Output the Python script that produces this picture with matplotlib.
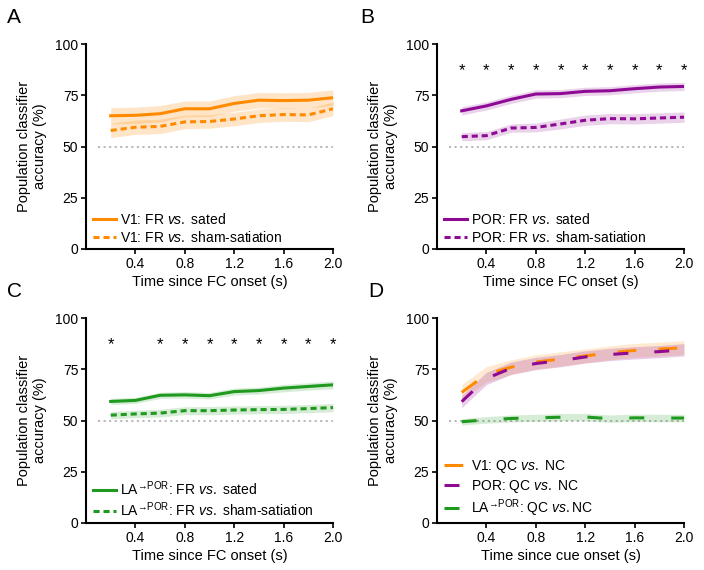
import numpy as np
import matplotlib.pyplot as plt

plt.rcParams['font.family'] = ['Liberation Sans', 'DejaVu Sans']
plt.rcParams['mathtext.fontset'] = 'custom'
plt.rcParams['mathtext.rm'] = 'Liberation Sans'
plt.rcParams['mathtext.it'] = 'Liberation Sans:italic'
plt.rcParams['lines.scale_dashes'] = False

# time bins (s)
time = [0.2, 0.4, 0.6, 0.8, 1.0, 1.2, 1.4, 1.6, 1.8, 2.0]

# panel A: V1
v1_sated = [65.0, 65.2, 66.0, 68.4, 68.4, 71.0, 72.6, 72.4, 72.6, 73.8]
v1_sated_err = [4.0, 4.0, 4.0, 3.8, 3.8, 3.8, 3.8, 3.8, 3.8, 3.8]
v1_sham = [57.8, 59.4, 59.8, 62.0, 62.2, 63.4, 65.0, 65.6, 65.4, 68.4]
v1_sham_err = [3.5, 3.5, 3.5, 3.3, 3.3, 3.3, 3.3, 3.3, 3.3, 3.3]

# panel B: POR
por_sated = [67.4, 69.8, 73.0, 75.6, 75.8, 76.9, 77.2, 78.2, 79.0, 79.3]
por_sated_err = [2.0, 2.0, 2.0, 2.0, 2.0, 2.0, 2.0, 2.0, 2.0, 2.0]
por_sham = [54.8, 55.3, 59.0, 59.3, 61.0, 62.8, 63.6, 63.5, 63.9, 64.3]
por_sham_err = [2.0, 2.0, 2.0, 2.2, 2.4, 2.5, 2.5, 2.5, 2.5, 2.5]
por_stars = [0.2, 0.4, 0.6, 0.8, 1.0, 1.2, 1.4, 1.6, 1.8, 2.0]

# panel C: LA->POR
la_sated = [59.3, 59.8, 62.3, 62.5, 62.1, 64.1, 64.6, 65.8, 66.6, 67.4]
la_sated_err = [1.5, 1.5, 1.5, 1.6, 1.6, 1.7, 1.7, 1.8, 1.8, 1.9]
la_sham = [52.6, 53.2, 53.6, 54.8, 54.8, 55.1, 55.3, 55.4, 55.8, 56.3]
la_sham_err = [1.8, 1.8, 1.9, 1.9, 2.0, 2.0, 2.0, 2.0, 2.0, 2.0]
la_stars = [0.2, 0.6, 0.8, 1.0, 1.2, 1.4, 1.6, 1.8, 2.0]

# panel D: quinine cue vs neutral cue
v1_qc = [63.7, 72.5, 76.0, 78.5, 80.0, 81.5, 83.0, 84.2, 84.8, 85.5]
v1_qc_err = [3.8, 3.8, 3.6, 3.5, 3.5, 3.4, 3.4, 3.4, 3.4, 3.4]
por_qc = [59.2, 70.5, 75.5, 77.8, 79.2, 81.0, 82.2, 83.0, 83.6, 84.5]
por_qc_err = [3.0, 3.0, 3.0, 3.0, 3.0, 3.0, 3.0, 3.0, 3.0, 3.0]
la_qc = [49.4, 50.3, 51.0, 51.3, 51.6, 51.7, 50.9, 51.3, 51.2, 51.2]
la_qc_err = [1.6, 1.6, 1.7, 1.7, 1.8, 1.8, 1.8, 1.8, 1.8, 1.8]

STAR_Y = 90
CHANCE = 50

ORANGE = '#FF8A00'
PURPLE = '#8E0A94'
GREEN = '#1F9A1F'
VS = r'$\mathit{vs.}$'
LA = r'LA$^{\mathrm{→POR}}$'


def band(ax, y, err, color, alpha=0.22):
    y = np.array(y)
    err = np.array(err)
    ax.fill_between(time, y - err, y + err, color=color, alpha=alpha, lw=0)


def style(ax, xlabel):
    ax.set_xlim(0, 2.0)
    ax.set_ylim(0, 100)
    ax.set_xticks([0.4, 0.8, 1.2, 1.6, 2.0])
    ax.set_yticks([0, 25, 50, 75, 100])
    for s in ['top', 'right']:
        ax.spines[s].set_visible(False)
    for s in ['left', 'bottom']:
        ax.spines[s].set_linewidth(1.5)
    ax.tick_params(direction='out', length=3.5, width=1.2, labelsize=10, pad=2)
    ax.axhline(CHANCE, xmin=0.05, xmax=1.0, color='#aaaaaa', ls=(0, (1.5, 2.5)), lw=1.2, zorder=0)
    ax.set_xlabel(xlabel, fontsize=10.5, labelpad=3)
    ax.set_ylabel('Population classifier\naccuracy (%)', fontsize=10.5, labelpad=6)


def stars(ax, xs):
    for x in xs:
        ax.annotate('*', (x, STAR_Y), xytext=(0, -8), textcoords='offset points',
                    ha='center', va='baseline', fontsize=12)


fig = plt.figure(figsize=(7.04, 5.70), dpi=100)
W, H = 247 / 704, 205 / 570
axA = fig.add_axes([86 / 704, 1 - 249 / 570, W, H])
axB = fig.add_axes([437 / 704, 1 - 249 / 570, W, H])
axC = fig.add_axes([86 / 704, 1 - 523 / 570, W, H])
axD = fig.add_axes([437 / 704, 1 - 523 / 570, W, H])

dash = (0, (4.4, 2.8))
leg_kw = dict(loc='lower left', frameon=False, fontsize=10, handlelength=1.6,
              handletextpad=0.35, labelspacing=0.2, borderpad=0, borderaxespad=0)

# A
band(axA, v1_sated, v1_sated_err, ORANGE)
band(axA, v1_sham, v1_sham_err, ORANGE)
axA.plot(time, v1_sated, color=ORANGE, lw=2.2, label='V1: FR ' + VS + ' sated')
axA.plot(time, v1_sham, color=ORANGE, lw=2.2, ls=dash, label='V1: FR ' + VS + ' sham-satiation')
style(axA, 'Time since FC onset (s)')
axA.legend(bbox_to_anchor=(0.03, 0.02), **leg_kw)

# B
band(axB, por_sated, por_sated_err, PURPLE, 0.18)
band(axB, por_sham, por_sham_err, PURPLE, 0.18)
axB.plot(time, por_sated, color=PURPLE, lw=2.2, label='POR: FR ' + VS + ' sated')
axB.plot(time, por_sham, color=PURPLE, lw=2.2, ls=dash, label='POR: FR ' + VS + ' sham-satiation')
stars(axB, por_stars)
style(axB, 'Time since FC onset (s)')
axB.legend(bbox_to_anchor=(0.03, 0.02), **leg_kw)

# C
band(axC, la_sated, la_sated_err, GREEN, 0.18)
band(axC, la_sham, la_sham_err, GREEN, 0.18)
axC.plot(time, la_sated, color=GREEN, lw=2.2, label=LA + ': FR ' + VS + ' sated')
axC.plot(time, la_sham, color=GREEN, lw=2.2, ls=dash, label=LA + ': FR ' + VS + ' sham-satiation')
stars(axC, la_stars)
style(axC, 'Time since FC onset (s)')
axC.legend(bbox_to_anchor=(0.03, 0.02), **leg_kw)

# D
band(axD, v1_qc, v1_qc_err, ORANGE, 0.18)
band(axD, por_qc, por_qc_err, PURPLE, 0.2)
band(axD, la_qc, la_qc_err, GREEN, 0.18)
axD.plot(time, v1_qc, color=ORANGE, lw=2.2, ls=(0, (13.5, 16)), label='V1: QC ' + VS + ' NC')
axD.plot(time, por_qc, color=PURPLE, lw=2.2, ls=(0, (10.8, 18.7)), label='POR: QC ' + VS + ' NC')
axD.plot(time, la_qc, color=GREEN, lw=2.2, ls=(0, (10.8, 19.4)), label=LA + ': QC ' + VS + 'NC')
style(axD, 'Time since cue onset (s)')
axD.legend(bbox_to_anchor=(0.03, 0.02), **leg_kw)

for label, x, y in [('A', 7, 23), ('B', 360, 23), ('C', 7, 297), ('D', 368, 297)]:
    fig.text(x / 704, 1 - y / 570, label, fontsize=15, ha='left', va='baseline')

fig.savefig('out.png', dpi=100)
